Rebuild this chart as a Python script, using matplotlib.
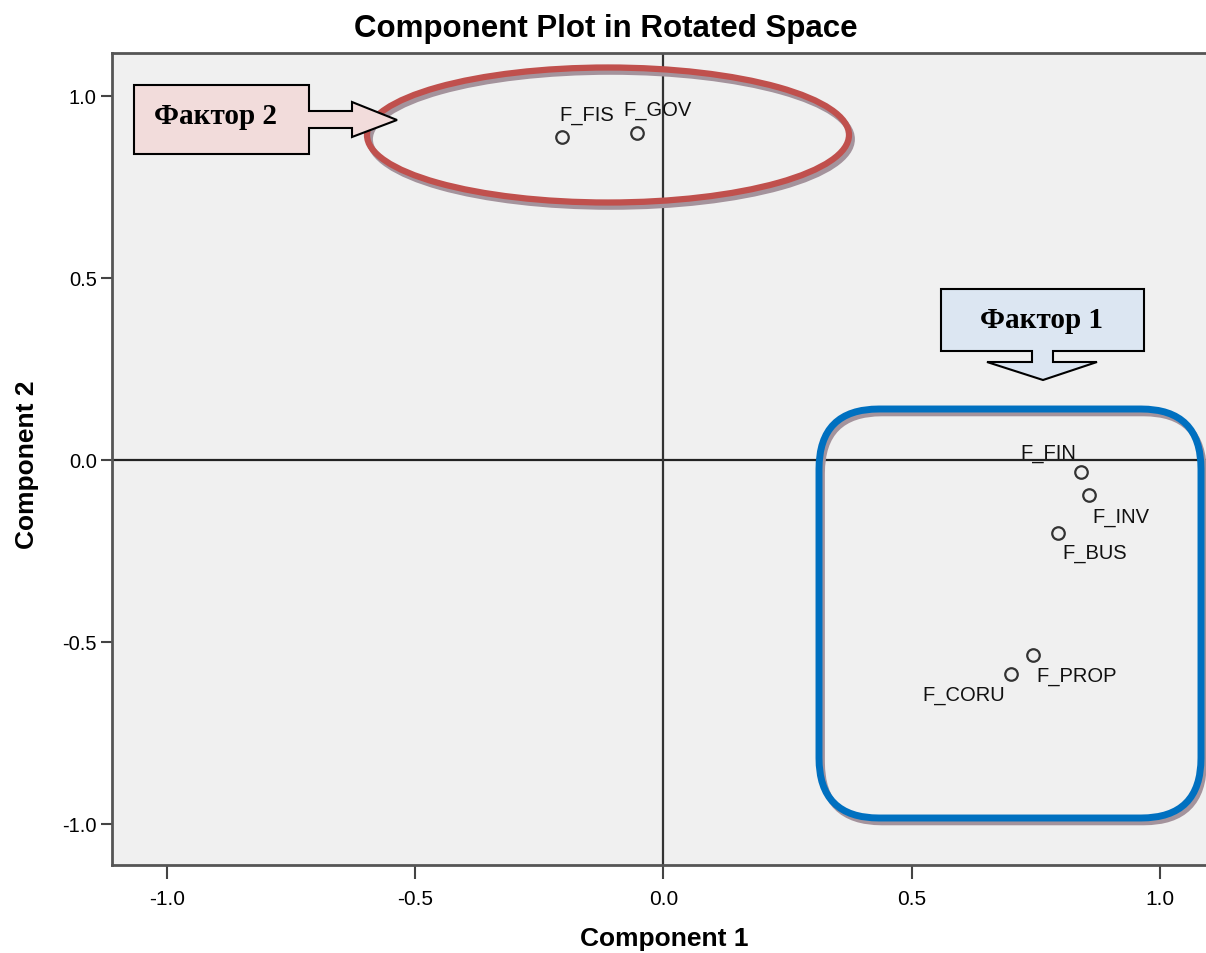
import matplotlib
matplotlib.use("Agg")
import matplotlib.pyplot as plt
import matplotlib.patheffects as pe
from matplotlib import transforms as mtransforms
from matplotlib.patches import Ellipse, FancyBboxPatch, Polygon

# loadings
names = ["F_FIS", "F_GOV", "F_FIN", "F_INV", "F_BUS", "F_PROP", "F_CORU"]
comp1 = [-0.204, -0.054, 0.841, 0.857, 0.794, 0.744, 0.700]
comp2 = [0.887, 0.898, -0.033, -0.096, -0.200, -0.536, -0.588]
ticks = [-1.0, -0.5, 0.0, 0.5, 1.0]
tick_labels = ["-1.0", "-0.5", "0.0", "0.5", "1.0"]

# where each label sits relative to its point (pixels)
label_offsets = {
    "F_FIS": (-3, 23), "F_GOV": (-13, 24), "F_FIN": (-61, 19),
    "F_INV": (4, -22), "F_BUS": (5, -20), "F_PROP": (4, -21),
    "F_CORU": (-89, -21),
}

W, H = 1206, 954
fig = plt.figure(figsize=(W / 100, H / 100), dpi=100)
ax = fig.add_axes([112 / W, (H - 866) / H, (W - 112) / W, (866 - 54) / H])
ax.set_facecolor("#f0f0f0")

ax.axhline(0, color="#222222", lw=1.6, zorder=1)
ax.axvline(0, color="#333333", lw=1.6, zorder=1)

ax.plot(comp1, comp2, "o", ms=9, mfc="none", mec="#333333", mew=1.6, zorder=3)
sans = ["Liberation Sans", "DejaVu Sans"]
for n, x, y in zip(names, comp1, comp2):
    dx, dy = label_offsets[n]
    ax.annotate(n, (x, y), xytext=(dx, dy), textcoords="offset pixels",
                ha="left", va="center", fontsize=14.5, color="#111111", family=sans)

ax.set_xlim(-1.111, 1.093)
ax.set_ylim(-1.113, 1.118)
ax.set_xticks(ticks)
ax.set_xticklabels(tick_labels, family=sans, fontsize=15)
ax.set_yticks(ticks)
ax.set_yticklabels(tick_labels, family=sans, fontsize=14.5)
ax.tick_params(axis="x", length=10, width=1.5, color="#444444", pad=7)
ax.tick_params(axis="y", length=8, width=1.5, color="#444444", pad=3)
for s in ["left", "bottom", "top"]:
    ax.spines[s].set_color("#555555")
    ax.spines[s].set_linewidth(2)
ax.spines["right"].set_visible(False)

ax.set_xlabel("Component 1", fontsize=19, fontweight="bold", family=sans, va="center")
ax.xaxis.set_label_coords((664 - 112) / (W - 112), (866 - 939) / (866 - 54))
ax.set_ylabel("Component 2", fontsize=19, fontweight="bold", family=sans, va="center")
ax.yaxis.set_label_coords((27 - 112) / (W - 112), (866 - 465) / (866 - 54))
fig.text(606 / W, 1 - 29 / H, "Component Plot in Rotated Space", ha="center", va="center",
         fontsize=22.5, fontweight="bold", family=sans)

# pixel coordinates, y measured from the top
px = mtransforms.Affine2D().scale(1 / W, -1 / H).translate(0, 1) + fig.transFigure
shadow = [pe.Stroke(offset=(2, -3), linewidth=4.5, foreground="#a4939c"), pe.Normal()]

ell = Ellipse((608, 136), 482, 135, fill=False, ec="#c0504d", lw=4.5, transform=px)
ell.set_path_effects(shadow)
fig.add_artist(ell)

rbox = FancyBboxPatch((819, 410), 382, 409, boxstyle="round,pad=0,rounding_size=60",
                      fill=False, ec="#0070c0", lw=5, transform=px)
rbox.set_path_effects(shadow)
fig.add_artist(rbox)

call2 = [(134, 86), (309, 86), (309, 112), (352, 112), (352, 103), (397, 121),
         (352, 138), (352, 129), (309, 129), (309, 155), (134, 155)]
fig.add_artist(Polygon(call2, closed=True, fc="#f2dcdb", ec="black", lw=1.5, transform=px))
call1 = [(941, 290), (1144, 290), (1144, 352), (1053, 352), (1053, 363), (1097, 363),
         (1043, 381), (987, 363), (1032, 363), (1032, 352), (941, 352)]
fig.add_artist(Polygon(call1, closed=True, fc="#dce6f2", ec="black", lw=1.5, transform=px))

serif = ["Liberation Serif", "DejaVu Serif"]
fig.text(216 / W, 1 - 116 / H, "Фактор 2", ha="center", va="center", fontsize=21,
         fontweight="bold", family=serif)
fig.text(1042 / W, 1 - 321 / H, "Фактор 1", ha="center", va="center", fontsize=21,
         fontweight="bold", family=serif)

fig.savefig("out.png", dpi=100)
